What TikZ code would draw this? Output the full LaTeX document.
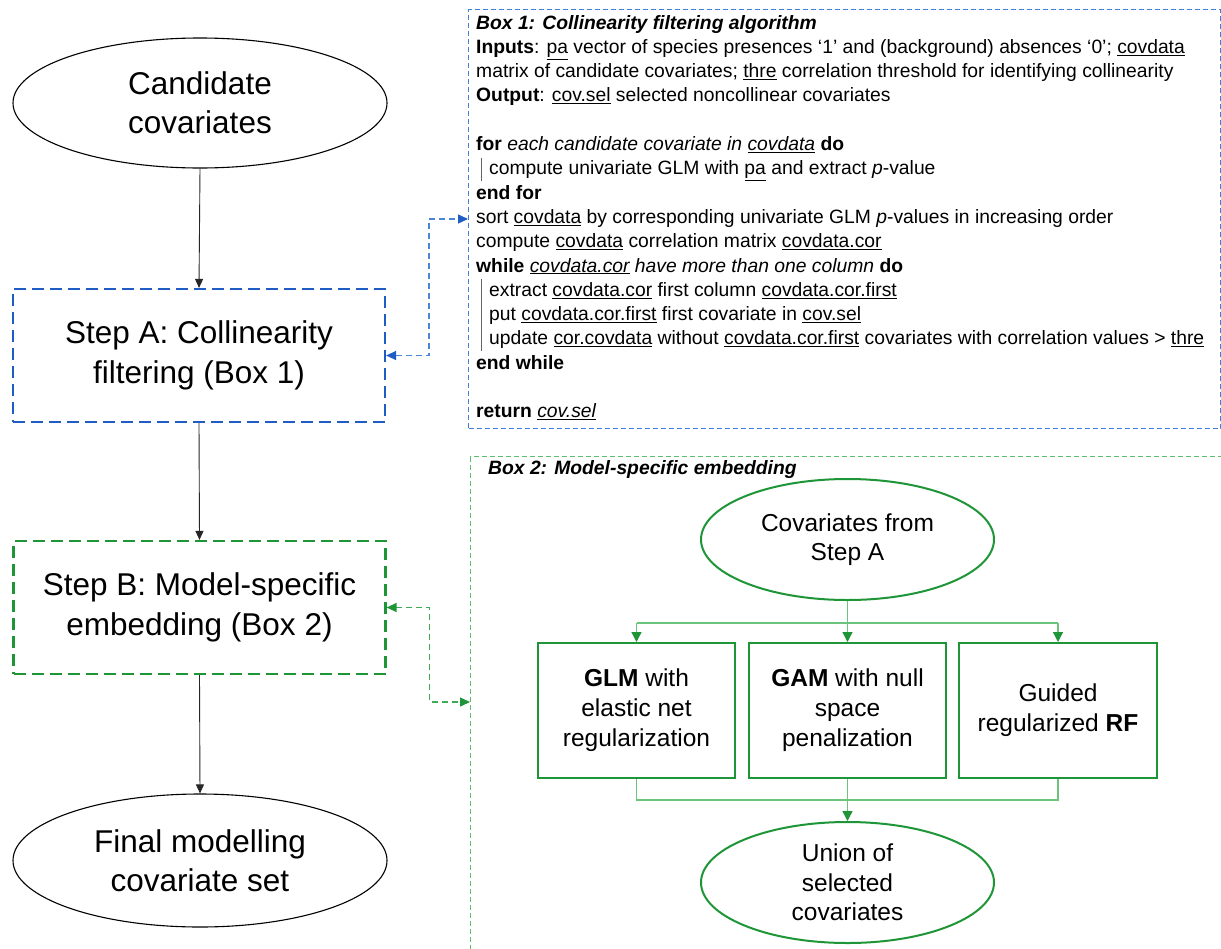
\documentclass[tikz,border=0pt]{standalone}
\usepackage{fontspec}
\setmainfont{Liberation Sans}
\usetikzlibrary{arrows.meta,shapes.geometric}
\definecolor{bluedark}{HTML}{1F5CC4}
\definecolor{bluelight}{HTML}{3C7FDA}
\definecolor{bluecon}{HTML}{4A86D8}
\definecolor{greendark}{HTML}{1E9638}
\definecolor{greenlight}{HTML}{5EBE6E}
\definecolor{greencon}{HTML}{3DAA55}
\definecolor{greenline}{HTML}{6CC37B}
\definecolor{bargray}{HTML}{666666}
\begin{document}
\begin{tikzpicture}[x=1pt,y=-1pt,
  bigell/.style={ellipse, draw=black, line width=1.1pt, minimum width=374pt, minimum height=130pt, inner sep=0pt, align=center, font=\fontsize{31.5}{39}\selectfont},
  stepA/.style={rectangle, draw=bluedark, line width=2.2pt, dash pattern=on 12pt off 6pt, minimum width=372pt, minimum height=133pt, inner sep=0pt, align=center, font=\fontsize{31.5}{40}\selectfont},
  stepB/.style={stepA, draw=greendark},
  blackarrow/.style={draw=black!85, line width=0.9pt, -{Triangle[length=9pt,width=8pt]}},
  bluelink/.style={draw=bluecon, line width=1.3pt, dash pattern=on 6pt off 4pt, {Triangle[length=10pt,width=9pt,color=bluedark]}-{Triangle[length=10pt,width=9pt,color=bluedark]}},
  greenlink/.style={draw=greencon, line width=1.3pt, dash pattern=on 6pt off 4pt, {Triangle[length=10pt,width=9pt,color=greendark]}-{Triangle[length=10pt,width=9pt,color=greendark]}},
  frameA/.style={rectangle, draw=bluelight, line width=1.3pt, dash pattern=on 5pt off 3pt, anchor=north west, inner sep=0pt},
  frameB/.style={frameA, draw=greenlight},
  algtext/.style={anchor=base west, inner sep=0pt, font=\fontsize{19.3}{23}\selectfont},
  gbox/.style={rectangle, draw=greendark, line width=2pt, minimum width=197pt, minimum height=135pt, inner sep=0pt, align=center, font=\fontsize{24.5}{30}\selectfont},
  gell/.style={ellipse, draw=greendark, line width=2pt, minimum width=293pt, minimum height=121pt, inner sep=0pt, align=center, font=\fontsize{24.5}{29.5}\selectfont},
  gline/.style={draw=greenline, line width=1.3pt},
  garrow/.style={draw=greenline, line width=1.3pt, -{Triangle[length=10pt,width=10pt,color=greendark]}}
]
\clip (0,0) rectangle (1221,948);
\fill[white] (0,0) rectangle (1221,948);

% left column
\node[bigell] (cand) at (200,103) {Candidate\\covariates};
\node[stepA] (sA) at (199,355.5) {Step A: Collinearity\\filtering (Box 1)};
\node[stepB] (sB) at (199.5,607.5) {Step B: Model-specific\\embedding (Box 2)};
\node[bigell, minimum height=133pt] (final) at (200,860.5) {Final modelling\\covariate set};
\draw[blackarrow] (cand.south) -- (sA.north);
\draw[blackarrow] (sA.south) -- (sB.north);
\draw[blackarrow] (sB.south) -- (final.north);

% frames
\node[frameA, minimum width=752pt, minimum height=419pt] (box1) at (468,9) {};
\node[frameB, minimum width=800pt, minimum height=600pt] (box2) at (470,456) {};
\coordinate (b1in) at (468,219);
\coordinate (b2in) at (470,702);
\draw[bluelink] (sA.east) -- ++(43,0) |- (b1in);
\draw[greenlink] (sB.east) -- ++(43,0) |- (b2in);

% Box 1 text
\node[algtext] (t1) at (476,29) {\textbf{\textit{Box 1: Collinearity filtering algorithm}}};
\node[algtext] (t2) at (476,53.3) {\textbf{Inputs}: \underline{pa} vector of species presences ‘1’ and (background) absences ‘0’; \underline{covdata}};
\node[algtext] (t3) at (476,77.6) {matrix of candidate covariates; \underline{thre} correlation threshold for identifying collinearity};
\node[algtext] (t4) at (476,101.9) {\textbf{Output}: \underline{cov.sel} selected noncollinear covariates};
\node[algtext] (t5) at (476,150.5) {\textbf{for} \textit{each candidate covariate in \underline{covdata}} \textbf{do}};
\node[algtext] (t6) at (489,174.8) {compute univariate GLM with \underline{pa} and extract \textit{p}-value};
\node[algtext] (t7) at (476,199.1) {\textbf{end for}};
\node[algtext] (t8) at (476,223.4) {sort \underline{covdata} by corresponding univariate GLM \textit{p}-values in increasing order};
\node[algtext] (t9) at (476,247.7) {compute \underline{covdata} correlation matrix \underline{covdata.cor}};
\node[algtext] (t10) at (476,272) {\textbf{while} \textit{\underline{covdata.cor} have more than one column} \textbf{do}};
\node[algtext] (t11) at (489,296.3) {extract \underline{covdata.cor} first column \underline{covdata.cor.first}};
\node[algtext] (t12) at (489,320.6) {put \underline{covdata.cor.first} first covariate in \underline{cov.sel}};
\node[algtext] (t13) at (489,344.9) {update \underline{cor.covdata} without \underline{covdata.cor.first} covariates with correlation values > \underline{thre}};
\node[algtext] (t14) at (476,369.2) {\textbf{end while}};
\node[algtext] (t15) at (476,417.8) {\textbf{return} \textit{\underline{cov.sel}}};
\draw[bargray, line width=0.8pt] (481,158) -- (481,181);
\draw[bargray, line width=0.8pt] (481,279) -- (481,351);

% Box 2
\node[algtext] (t16) at (488,474) {\textbf{\textit{Box 2: Model-specific embedding}}};
\node[gell] (cov) at (847.5,539.5) {Covariates from\\Step A};
\node[gbox] (glm) at (636.5,710.5) {\textbf{GLM} with\\elastic net\\regularization};
\node[gbox] (gam) at (847.5,710.5) {\textbf{GAM} with null\\space\\penalization};
\node[gbox, minimum width=198pt] (rf) at (1058,710.5) {Guided\\regularized \textbf{RF}};
\node[gell] (union) at (847.5,882.5) {Union of\\selected\\covariates};
\coordinate (split) at (847.5,623);
\coordinate (join) at (847.5,800);
\draw[gline] (glm.north |- split) -- (rf.north |- split);
\draw[garrow] (cov.south) -- (gam.north);
\draw[garrow] (glm.north |- split) -- (glm.north);
\draw[garrow] (rf.north |- split) -- (rf.north);
\draw[gline] (glm.south) -- (glm.south |- join) -- (rf.south |- join) -- (rf.south);
\draw[garrow] (gam.south) -- (union.north);
\end{tikzpicture}
\end{document}
